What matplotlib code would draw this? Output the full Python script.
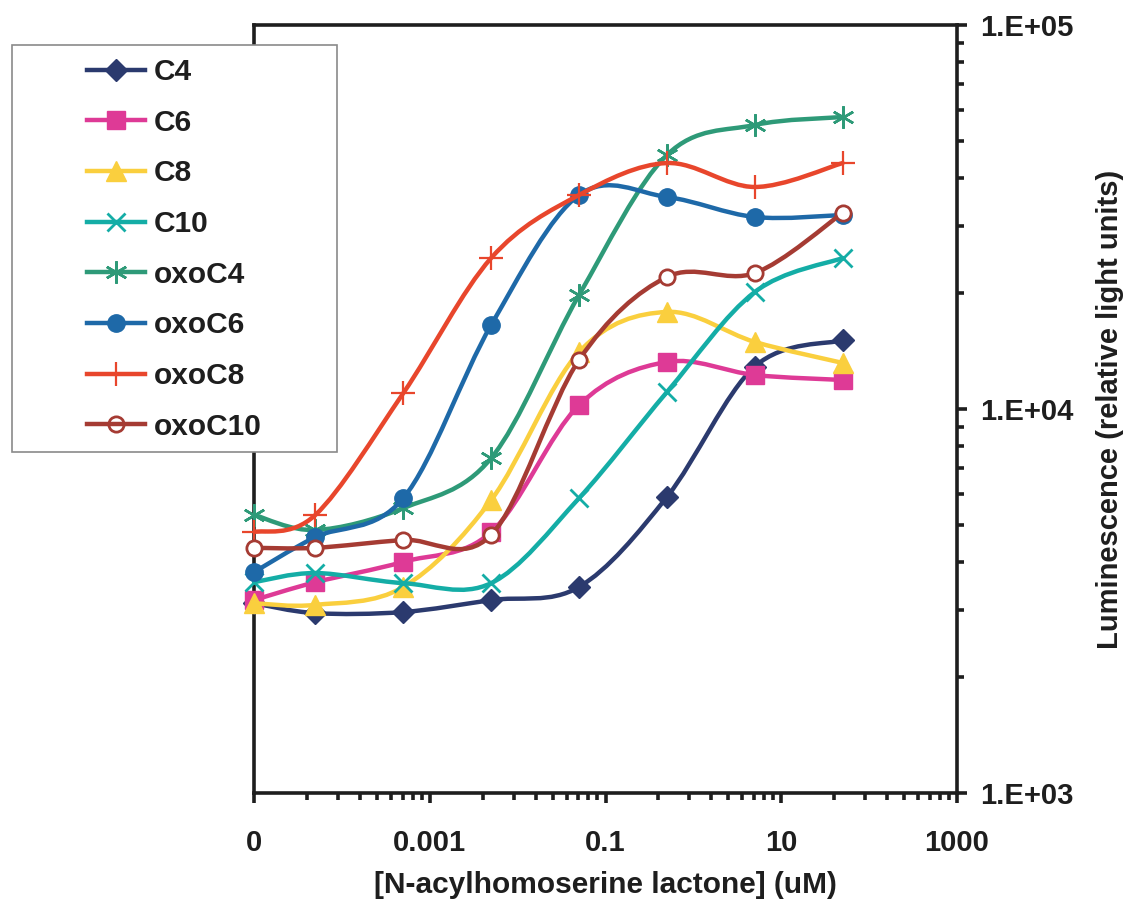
import matplotlib
matplotlib.use("Agg")
import matplotlib.pyplot as plt
import numpy as np
from matplotlib.path import Path
from matplotlib.patches import PathPatch, Rectangle
from matplotlib.lines import Line2D
from matplotlib.ticker import FixedLocator, NullFormatter, LogLocator

plt.rcParams['font.family'] = ['Liberation Sans', 'DejaVu Sans']
plt.rcParams['font.weight'] = 'bold'

# concentration (uM); "0" is plotted at 1e-5
conc = [1e-5, 5e-5, 5e-4, 5e-3, 5e-2, 0.5, 5, 50]

names = ["C4", "C6", "C8", "C10", "oxoC4", "oxoC6", "oxoC8", "oxoC10"]
c4 = [3120, 2940, 2960, 3180, 3440, 5900, 12900, 15100]
c6 = [3180, 3540, 4000, 4780, 10240, 13260, 12260, 11900]
c8 = [3120, 3090, 3440, 5790, 14070, 17900, 14950, 13180]
c10 = [3540, 3740, 3520, 3520, 5860, 11070, 20170, 24730]
oxoc4 = [5300, 4840, 5520, 7450, 19810, 45860, 54910, 57600]
oxoc6 = [3760, 4640, 5860, 16550, 36080, 35650, 31620, 32000]
oxoc8 = [4780, 5300, 11000, 24730, 36080, 43700, 37860, 43700]
oxoc10 = [4350, 4350, 4560, 4700, 13420, 22070, 22600, 32400]

x_major = [1e-5, 1e-3, 1e-1, 10, 1000]
x_labels = ["0", "0.001", "0.1", "10", "1000"]
y_major = [1e3, 1e4, 1e5]
y_labels = ["1.E+03", "1.E+04", "1.E+05"]

series = [c4, c6, c8, c10, oxoc4, oxoc6, oxoc8, oxoc10]
colors = ['#2B3A6E', '#DE3A96', '#FACF3E', '#14ADA6', '#2E9A78', '#1E69A8', '#E8462C', '#A53B33']
# marker, size, edge width, filled
markers = [('D', 11, 1, True), ('s', 13, 1, True), ('^', 14, 1, True), ('x', 13, 2, True),
           ((6, 2, 0), 16, 1.8, True), ('o', 12.5, 1, True), ('+', 17, 1.6, True), ('o', 11, 2, False)]


def smooth_path(x, y):
    # Excel-style smoothed line: cubic Bezier through points (Catmull-Rom), in log space
    lx, ly = np.log10(x), np.log10(y)
    p = np.column_stack([lx, ly])
    n = len(p)
    verts = [p[0]]
    codes = [Path.MOVETO]
    for i in range(n - 1):
        p0 = p[i - 1] if i > 0 else p[i]
        p3 = p[i + 2] if i + 2 < n else p[i + 1]
        c1 = p[i] + (p[i + 1] - p0) / 6
        c2 = p[i + 1] - (p3 - p[i]) / 6
        verts += [c1, c2, p[i + 1]]
        codes += [Path.CURVE4] * 3
    verts = 10 ** np.array(verts)
    return Path(verts, codes)


fig = plt.figure(figsize=(11.31, 9), dpi=100)
ax = fig.add_axes([254 / 1131, 1 - 793 / 900, 703 / 1131, 768 / 900])
ax.set_xscale('log')
ax.set_yscale('log')

handles = []
for k, (vals, col, mk) in enumerate(zip(series, colors, markers)):
    m, ms, mew, filled = mk
    ax.add_patch(PathPatch(smooth_path(conc, vals), fill=False, edgecolor=col,
                           lw=3.2, zorder=2 + 2 * k, capstyle='round', joinstyle='round'))
    ax.plot(conc, vals, ls='none', marker=m, ms=ms, mew=mew, color=col,
            mfc=col if filled else 'white', mec=col, zorder=3 + 2 * k, clip_on=False)
    handles.append(Line2D([], [], color=col, lw=3.2, marker=m, ms=ms, mew=mew,
                          mfc=col if filled else 'none', mec=col))

ax.set_xlim(1e-5, 1e3)
ax.set_ylim(1e3, 1e5)

for s in ax.spines.values():
    s.set_linewidth(2.6)
    s.set_color('#1e1e1e')

# x axis: base-100 major ticks, Excel-style minor ticks
ax.xaxis.set_major_locator(FixedLocator(x_major))
ax.set_xticklabels(x_labels)
x_minor = [m * j ** 2 for m in x_major[:-1] for j in range(2, 10)]
ax.xaxis.set_minor_locator(FixedLocator(x_minor))
ax.xaxis.set_minor_formatter(NullFormatter())
ax.tick_params(axis='x', which='major', direction='out', length=7, width=2.6,
               labelsize=21, pad=19, colors='#1e1e1e')
ax.tick_params(axis='x', which='minor', direction='out', length=5, width=2.6, colors='#1e1e1e')

# y axis on the right
ax.yaxis.tick_right()
ax.yaxis.set_label_position('right')
ax.yaxis.set_major_locator(FixedLocator(y_major))
ax.set_yticklabels(y_labels)
ax.yaxis.set_minor_locator(LogLocator(base=10, subs=range(2, 10)))
ax.yaxis.set_minor_formatter(NullFormatter())
ax.tick_params(axis='y', which='major', direction='out', length=7, width=2.6,
               labelsize=21, pad=10, colors='#1e1e1e')
ax.tick_params(axis='y', which='minor', direction='out', length=5, width=2.6, colors='#1e1e1e')

ax.set_xlabel("[N-acylhomoserine lactone] (uM)", fontsize=21.5, fontweight='bold',
              labelpad=10, color='#1e1e1e')
ax.set_ylabel("Luminescence (relative light units)", fontsize=21, fontweight='bold',
              labelpad=16, color='#1e1e1e')

# legend box (opaque, covers the left spine)
fig.patches.append(Rectangle((12 / 1131, 1 - 452 / 900), 325 / 1131, 407 / 900,
                             transform=fig.transFigure, facecolor='white',
                             edgecolor='#8a8a8a', lw=1.2, zorder=4))
leg = fig.legend(handles, names, loc='upper left', bbox_to_anchor=(87 / 1131, 1 - 58 / 900),
                 frameon=False, fontsize=21.5, handlelength=1.95, handletextpad=0.3,
                 labelspacing=0.76, borderpad=0, borderaxespad=0)
leg.set_zorder(5)
for t in leg.get_texts():
    t.set_color('#1e1e1e')

fig.savefig("out.png", dpi=100)
